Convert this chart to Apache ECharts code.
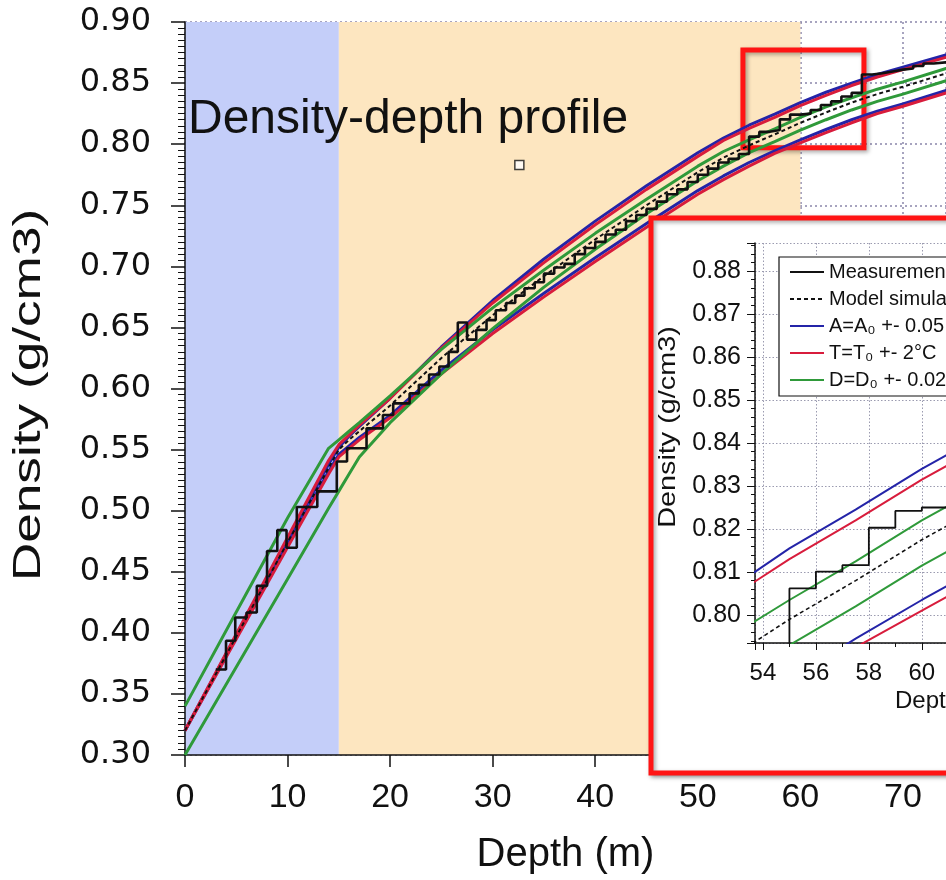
<!DOCTYPE html>
<html>
<head>
<meta charset="utf-8">
<title>Density-depth profile</title>
<script src="https://cdn.jsdelivr.net/npm/echarts@6/dist/echarts.min.js"></script>
<style>
html, body { margin: 0; padding: 0; background: #fff; overflow: hidden; }
/* the figure is cropped on the right: the canvas runs past the 946px window */
#chart { width: 1150px; height: 880px; }
</style>
</head>
<body>
<div id="chart"></div>
<script>
// depths (m) shared by the model curves
var depths = [0, 5, 10, 14, 15, 16, 17, 20, 25, 30, 35, 40, 45, 50, 52.5, 55, 57.5, 60, 62.5, 65, 67.5, 70, 75];
// model simulation (dashed)
var modelSim = [0.320, 0.397, 0.474, 0.535, 0.550, 0.558, 0.565, 0.586, 0.625, 0.660, 0.692, 0.722, 0.750, 0.777, 0.789, 0.799, 0.808, 0.8175, 0.826, 0.834, 0.841, 0.847, 0.860];
// A = A0 +- (blue)
var accUpper = [0.320, 0.398, 0.476, 0.538, 0.552, 0.561, 0.569, 0.592, 0.634, 0.672, 0.706, 0.737, 0.766, 0.793, 0.805, 0.8155, 0.8245, 0.834, 0.8425, 0.850, 0.857, 0.863, 0.875];
var accLower = [0.320, 0.396, 0.472, 0.532, 0.546, 0.553, 0.560, 0.578, 0.615, 0.648, 0.678, 0.707, 0.735, 0.762, 0.774, 0.785, 0.7945, 0.8035, 0.812, 0.820, 0.827, 0.833, 0.846];
// T = T0 +- 2°C (red)
var tempUpper = [0.320, 0.399, 0.478, 0.541, 0.554, 0.562, 0.570, 0.592, 0.633, 0.670, 0.703, 0.734, 0.763, 0.790, 0.803, 0.813, 0.822, 0.8315, 0.840, 0.848, 0.855, 0.861, 0.873];
var tempLower = [0.320, 0.395, 0.470, 0.530, 0.544, 0.551, 0.558, 0.576, 0.612, 0.645, 0.675, 0.704, 0.732, 0.759, 0.771, 0.782, 0.7925, 0.801, 0.8095, 0.8175, 0.825, 0.831, 0.844];
// D = D0 +- (green)
var denUpper = [0.340, 0.417, 0.494, 0.551, 0.558, 0.565, 0.572, 0.594, 0.632, 0.666, 0.697, 0.727, 0.755, 0.782, 0.794, 0.8035, 0.8125, 0.822, 0.8305, 0.838, 0.845, 0.851, 0.864];
var denLower = [0.300, 0.372, 0.444, 0.502, 0.516, 0.530, 0.544, 0.572, 0.612, 0.649, 0.683, 0.714, 0.743, 0.770, 0.782, 0.793, 0.802, 0.8115, 0.820, 0.828, 0.835, 0.841, 0.854];

// measurement, step starts
var measDepth = [3.0, 4.0, 4.9, 6.0, 7.0, 8.0, 9.0, 9.9, 10.9, 12.9, 14.8, 15.8, 17.7, 19.3, 20.3, 21.9, 22.8, 23.8, 24.8, 25.7, 26.6, 27.5, 28.4, 29.4, 30.3, 31.3, 32.2, 33.1, 34.1, 35.0, 36.0, 37.0, 38.0, 39.0, 40.0, 41.0, 42.0, 43.0, 44.0, 45.0, 46.0, 47.0, 48.0, 49.0, 50.0, 51.0, 52.0, 53.0, 54.0, 55.0, 56.0, 57.0, 58.0, 59.0, 60.0, 61.0, 62.0, 63.0, 64.0, 65.0, 66.0, 67.0, 68.0, 69.0, 70.0, 71.0, 72.0, 73.0, 75.0];
var measDensity = [0.370, 0.3935, 0.4125, 0.4166, 0.4384, 0.467, 0.4841, 0.4697, 0.503, 0.5158, 0.5402, 0.5511, 0.5674, 0.5783, 0.5878, 0.596, 0.603, 0.6115, 0.618, 0.630, 0.654, 0.640, 0.648, 0.656, 0.664, 0.670, 0.676, 0.682, 0.687, 0.694, 0.699, 0.702, 0.710, 0.715, 0.720, 0.726, 0.730, 0.737, 0.742, 0.747, 0.753, 0.759, 0.763, 0.769, 0.775, 0.780, 0.785, 0.788, 0.792, 0.8062, 0.8101, 0.8116, 0.8203, 0.8242, 0.825, 0.828, 0.832, 0.835, 0.839, 0.842, 0.857, 0.858, 0.8595, 0.861, 0.862, 0.864, 0.866, 0.8676, 0.870];

var bandRanges = [[0, 15], [15, 60]];
var zoomBox = { depth: [54.4, 66.2], density: [0.797, 0.877] };
var strayPoint = [32.6, 0.783];

var xTicks = { min: 0, max: 74.2, step: 10 };
var yTicks = { min: 0.30, max: 0.90, step: 0.05 };
var insetX = { min: 53.7, max: 68.3 };
var insetY = { min: 0.7935, max: 0.8865 };

var names = ['Measurement', 'Model simulation', 'A=A\u2080 +- 0.05', 'T=T\u2080 +- 2\u00b0C', 'D=D\u2080 +- 0.02'];

function pairs(ys) {
    return depths.map(function (d, i) { return [d, ys[i]]; });
}
var measData = measDepth.map(function (d, i) { return [d, measDensity[i]]; });

var BLUE = '#2424a8', RED = '#d81c3c', GREEN = '#2f9a3a', BLACK = '#111';
var SANS = '"Liberation Sans", Arial, sans-serif';

function curves(g, w, z) {
    var base = { type: 'line', xAxisIndex: g, yAxisIndex: g, symbol: 'none', silent: true, z: z };
    function mk(name, ys, color, width, dash) {
        return Object.assign({}, base, {
            name: name, data: pairs(ys),
            lineStyle: { color: color, width: width, type: dash || 'solid' },
            itemStyle: { color: color }
        });
    }
    return [
        mk(names[2], accUpper, BLUE, w),
        mk(names[2], accLower, BLUE, w),
        mk(names[3], tempUpper, RED, w),
        mk(names[3], tempLower, RED, w),
        mk(names[4], denUpper, GREEN, w),
        mk(names[4], denLower, GREEN, w),
        mk(names[1], modelSim, BLACK, g === 0 ? 2 : 1.6, [4, 3]),
        Object.assign({}, base, {
            name: names[0], data: measData, step: 'end',
            lineStyle: { color: BLACK, width: g === 0 ? 2.6 : 1.8 },
            itemStyle: { color: BLACK }
        })
    ];
}

var myChart = echarts.init(document.getElementById('chart'));

var gridLine = { show: true, lineStyle: { color: '#8a87ab', type: [2, 3], width: 1.5 } };
var insetGridLine = { show: true, lineStyle: { color: '#9b9bb0', type: [1.5, 2], width: 1 } };

var series = [{
    // background bands
    type: 'line', xAxisIndex: 0, yAxisIndex: 0, data: [], z: 0, silent: true,
    markArea: {
        silent: true,
        data: [
            [{ xAxis: bandRanges[0][0], itemStyle: { color: '#c4cef9' } }, { xAxis: bandRanges[0][1] }],
            [{ xAxis: bandRanges[1][0], itemStyle: { color: '#fde6c0' } }, { xAxis: bandRanges[1][1] }]
        ]
    }
}];
series = series.concat(curves(0, 3, 2));
series.push({
    type: 'scatter', xAxisIndex: 0, yAxisIndex: 0, z: 3, silent: true,
    symbol: 'rect', symbolSize: 9,
    itemStyle: { color: '#fff', borderColor: BLACK, borderWidth: 1.5 },
    data: [strayPoint]
});
series.push({
    // zoom rectangle
    type: 'line', xAxisIndex: 0, yAxisIndex: 0, data: [], z: 4, silent: true,
    markArea: {
        silent: true,
        itemStyle: {
            color: 'rgba(0,0,0,0)', borderColor: '#ff1414', borderWidth: 5,
            shadowBlur: 4, shadowColor: 'rgba(0,0,0,0.35)', shadowOffsetX: 2, shadowOffsetY: 2
        },
        data: [[{ coord: [zoomBox.depth[0], zoomBox.density[1]] }, { coord: [zoomBox.depth[1], zoomBox.density[0]] }]]
    }
});
series = series.concat(curves(1, 2, 7));

var option = {
    animation: false,
    backgroundColor: '#fff',
    grid: [
        { left: 185, top: 22, width: 761, bottom: 122 },
        { left: 755, top: 243, width: 394, height: 400 }
    ],
    graphic: [
        {
            type: 'text', left: 188, top: 96, z: 3, silent: true,
            style: { text: 'Density-depth profile', font: '48px ' + SANS, fill: BLACK }
        },
        {
            // main y-axis title
            type: 'text', x: 30, y: 395, rotation: Math.PI / 2, scaleX: 1.4, z: 3, silent: true,
            style: { text: 'Density (g/cm3)', font: '38px ' + SANS, fill: BLACK, align: 'center', verticalAlign: 'middle' }
        },
        {
            type: 'rect', z: 5, silent: true,
            shape: { x: 651, y: 218, width: 600, height: 555 },
            style: {
                fill: '#fff', stroke: '#ff1414', lineWidth: 5,
                shadowBlur: 4, shadowColor: 'rgba(0,0,0,0.35)', shadowOffsetX: 2, shadowOffsetY: 2
            }
        },
        {
            // inset y-axis title
            type: 'text', x: 668, y: 427, rotation: Math.PI / 2, scaleX: 1.2, z: 6, silent: true,
            style: { text: 'Density (g/cm3)', font: '24px ' + SANS, fill: BLACK, align: 'center', verticalAlign: 'middle' }
        }
    ],
    legend: {
        data: names, orient: 'vertical', left: 779, top: 257, z: 8,
        backgroundColor: '#fff', borderColor: BLACK, borderWidth: 1.2, borderRadius: 0,
        padding: [5, 8, 6, 10], itemWidth: 34, itemHeight: 12, itemGap: 7,
        itemStyle: { opacity: 0 },
        textStyle: { fontFamily: SANS, fontSize: 20, color: BLACK }
    },
    xAxis: [{
        gridIndex: 0, type: 'value', min: xTicks.min, max: xTicks.max, interval: xTicks.step, z: 1,
        name: 'Depth (m)', nameLocation: 'middle', nameGap: 80,
        nameTextStyle: { fontFamily: SANS, fontSize: 40, color: BLACK },
        axisLine: { lineStyle: { color: BLACK, width: 1.5 } },
        axisTick: { length: 12, lineStyle: { color: BLACK, width: 1.5 } },
        axisLabel: { margin: 26, fontFamily: SANS, fontSize: 34, color: BLACK, showMaxLabel: false },
        splitLine: gridLine
    }, {
        gridIndex: 1, type: 'value', min: insetX.min, max: insetX.max, splitNumber: 7, z: 6,
        name: 'Depth (m)', nameLocation: 'middle', nameGap: 46,
        nameTextStyle: { fontFamily: SANS, fontSize: 24, color: BLACK },
        axisLine: { lineStyle: { color: BLACK, width: 1.5 } },
        axisTick: { length: 7, lineStyle: { color: BLACK } },
        minorTick: { show: true, splitNumber: 2, length: 4, lineStyle: { color: BLACK } },
        axisLabel: { margin: 18, fontFamily: SANS, fontSize: 24, color: BLACK, showMinLabel: false, showMaxLabel: false },
        splitLine: insetGridLine
    }],
    yAxis: [{
        gridIndex: 0, type: 'value', min: yTicks.min, max: yTicks.max, interval: yTicks.step, z: 1,
        axisLine: { lineStyle: { color: BLACK, width: 1.5 } },
        axisTick: { length: 14, lineStyle: { color: BLACK, width: 1.5 } },
        minorTick: { show: true, splitNumber: 10, length: 7, lineStyle: { color: BLACK } },
        axisLabel: {
            margin: 34, fontFamily: '"DejaVu Sans", sans-serif', fontSize: 32, color: BLACK,
            formatter: function (v) { return v.toFixed(2); }
        },
        splitLine: gridLine
    }, {
        gridIndex: 1, type: 'value', min: insetY.min, max: insetY.max, splitNumber: 9, z: 6,
        axisLine: { lineStyle: { color: BLACK, width: 1.5 } },
        axisTick: { length: 8, lineStyle: { color: BLACK } },
        minorTick: { show: true, splitNumber: 5, length: 4, lineStyle: { color: BLACK } },
        axisLabel: {
            margin: 14, fontFamily: SANS, fontSize: 25, color: BLACK,
            showMinLabel: false, showMaxLabel: false,
            formatter: function (v) { return v.toFixed(2); }
        },
        splitLine: insetGridLine
    }],
    series: series
};
myChart.setOption(option);
</script>
</body>
</html>
